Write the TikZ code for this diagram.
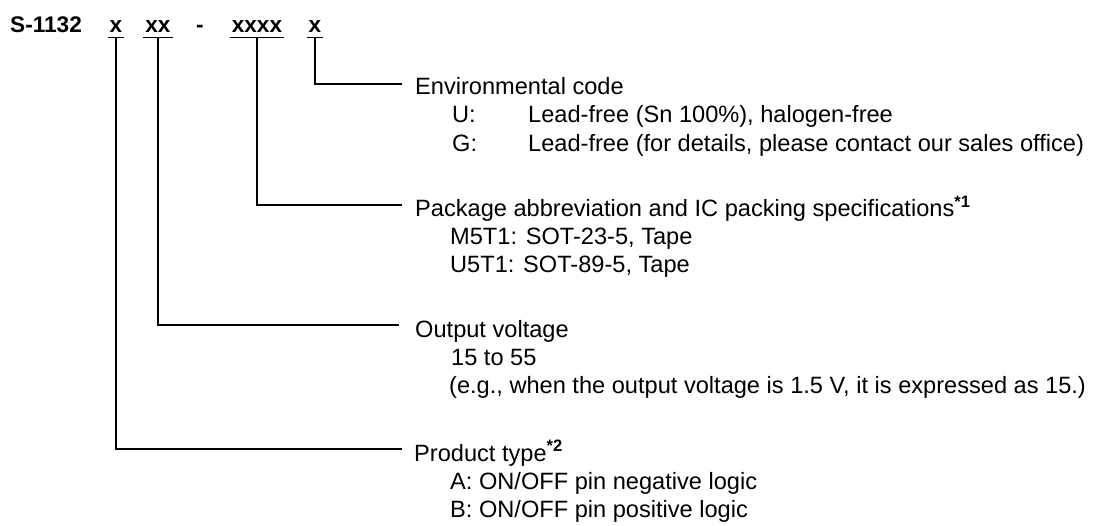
\documentclass[tikz,border=0pt]{standalone}
\usepackage{fontspec}
\setmainfont{Liberation Sans}

\begin{document}
\begin{tikzpicture}[x=1pt,y=-1pt,
  every node/.style={font=\fontsize{23.6}{28.5}\selectfont,inner sep=0pt},
  code/.style={font=\fontsize{22.6}{28.5}\selectfont\bfseries,anchor=base,inner xsep=2pt,inner ysep=4.5pt,text depth=0pt},
  head/.style={anchor=base west},
  item/.style={anchor=base west},
  link/.style={line width=1.3pt}]
\useasboundingbox (0,0) rectangle (1099,526);
% part number
\node[anchor=base west,font=\fontsize{22.6}{28.5}\selectfont\bfseries] (pn) at (10,33) {S-1132};
\node[code] (ptype) at (116,33) {x};
\node[code] (volt) at (158,33) {xx};
\node[code] (dash) at (200,33) {-};
\node[code] (pkg) at (257,33) {xxxx};
\node[code] (env) at (315,33) {x};
\foreach \n in {ptype,volt,pkg,env}
  \draw[link] (\n.south west) -- (\n.south east);

% environmental code
\node[head] (envhead) at (415,95) {Environmental code};
\node[item] (envU) at (452,123) {U:};
\node[item] (envUtxt) at (528,123) {Lead-free (Sn 100\%), halogen-free};
\node[item] (envG) at (452,152) {G:};
\node[item] (envGtxt) at (528,152) {Lead-free (for details, please contact our sales office)};

% package
\node[head] (pkghead) at (415,217) {Package abbreviation and IC packing specifications\textsuperscript{\bfseries *1}};
\node[item] (pkgM) at (450,245) {M5T1: SOT-23-5, Tape};
\node[item] (pkgU) at (450,273) {U5T1: SOT-89-5, Tape};

% output voltage
\node[head] (volthead) at (415,337) {Output voltage};
\node[item] (voltrange) at (451,365) {15 to 55};
\node[item] (voltnote) at (449,393) {(e.g., when the output voltage is 1.5 V, it is expressed as 15.)};

% product type
\node[head] (ptypehead) at (414,461) {Product type\textsuperscript{\bfseries *2}};
\node[item] (ptypeA) at (450,489) {A: ON/OFF pin negative logic};
\node[item] (ptypeB) at (450,517) {B: ON/OFF pin positive logic};

% connectors
\draw[link] (env.south) |- ([xshift=-13pt,yshift=11pt]envhead.base west);
\draw[link] (pkg.south) |- ([xshift=-13pt,yshift=12pt]pkghead.base west);
\draw[link] (volt.south) |- ([xshift=-16pt,yshift=12pt]volthead.base west);
\draw[link] (ptype.south) |- ([xshift=-12pt,yshift=12pt]ptypehead.base west);
\end{tikzpicture}
\end{document}
